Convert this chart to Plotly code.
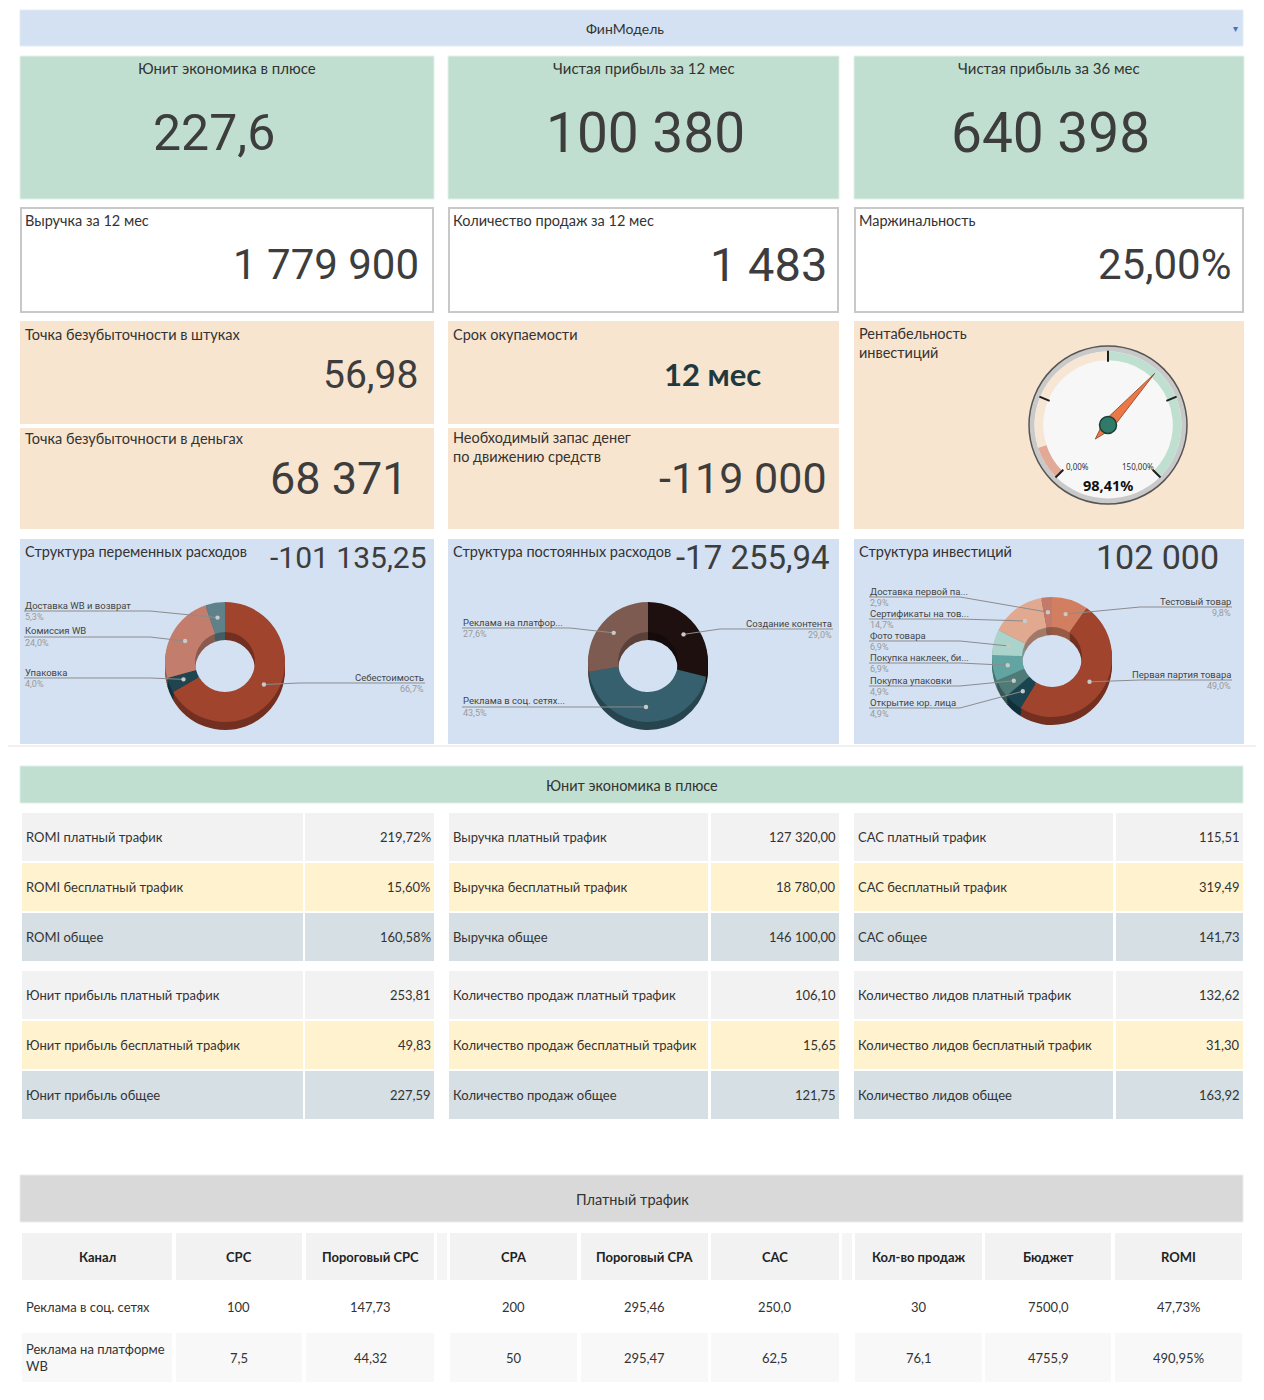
import numpy as np
import plotly.graph_objects as go

# page body has an 8px margin: the figure is sized/offset so page pixels map 1:1
OFF = 8
W, H = 1264 - OFF, 1400 - OFF
def X(x): return (x - OFF) / W
def Y(y): return 1 - (y - OFF) / H

LABEL_FONT = "Lato, 'Noto Sans', sans-serif"
NUM_FONT = "Roboto, sans-serif"
TXT = "#333333"
NUM = "#3d3d3d"

# ---------------- data ----------------
header_title = "ФинМодель"
top_titles = ["Юнит экономика в плюсе", "Чистая прибыль за 12 мес", "Чистая прибыль за 36 мес"]
top_values = ["227,6", "100 380", "640 398"]
mid_titles = ["Выручка за 12 мес", "Количество продаж за 12 мес", "Маржинальность"]
mid_values = ["1 779 900", "1 483", "25,00%"]
be_titles = ["Точка безубыточности в штуках", "Точка безубыточности в деньгах"]
be_values = ["56,98", "68 371"]
payback_title = "Срок окупаемости"
payback_value = "12 мес"
cash_title = "Необходимый запас денег<br>по движению средств"
cash_value = "-119 000"
roi_title = "Рентабельность<br>инвестиций"
roi_value = 98.41
gauge_min, gauge_max = 0, 150
gauge_ticks = [0, 37.5, 75, 112.5, 150]
gauge_bands = [(0, 15), (15, 75), (75, 150)]
gauge_band_colors = ["#e2a996", "#f7e6d3", "#bfe0d1"]

struct_titles = ["Структура переменных расходов", "Структура постоянных расходов", "Структура инвестиций"]
struct_totals = ["-101 135,25", "-17 255,94", "102 000"]

var_labels = ["Себестоимость", "Упаковка", "Комиссия WB", "Доставка WB и возврат"]
var_values = [66.7, 4.0, 24.0, 5.3]
var_colors = ["#a0442e", "#1e4550", "#c27d6d", "#5f818a"]

fix_labels = ["Создание контента", "Реклама в соц. сетях...", "Реклама на платфор..."]
fix_values = [29.0, 43.5, 27.6]
fix_colors = ["#1f1010", "#37606e", "#7e5b51"]

inv_labels = ["Тестовый товар", "Первая партия товара", "Открытие юр. лица", "Покупка упаковки",
              "Покупка наклеек, би...", "Фото товара", "Сертификаты на тов...", "Доставка первой па..."]
inv_values = [9.8, 49.0, 4.9, 4.9, 6.9, 6.9, 14.7, 2.9]
inv_colors = ["#d27f61", "#a0442e", "#1a4450", "#4e7a78", "#62a4a1", "#a9d3cb", "#e2a991", "#c47a6a"]

unit_header = "Юнит экономика в плюсе"
unit_labels = [
    ["ROMI платный трафик", "ROMI бесплатный трафик", "ROMI общее",
     "Юнит прибыль платный трафик", "Юнит прибыль бесплатный трафик", "Юнит прибыль общее"],
    ["Выручка платный трафик", "Выручка бесплатный трафик", "Выручка общее",
     "Количество продаж платный трафик", "Количество продаж бесплатный трафик", "Количество продаж общее"],
    ["CAC платный трафик", "CAC бесплатный трафик", "CAC общее",
     "Количество лидов платный трафик", "Количество лидов бесплатный трафик", "Количество лидов общее"],
]
unit_values = [
    ["219,72%", "15,60%", "160,58%", "253,81", "49,83", "227,59"],
    ["127 320,00", "18 780,00", "146 100,00", "106,10", "15,65", "121,75"],
    ["115,51", "319,49", "141,73", "132,62", "31,30", "163,92"],
]

traffic_header = "Платный трафик"
traffic_cols = ["Канал", "CPC", "Пороговый CPC", "CPA", "Пороговый CPA", "CAC", "Кол-во продаж", "Бюджет", "ROMI"]
traffic_rows = [
    ["Реклама в соц. сетях", "100", "147,73", "200", "295,46", "250,0", "30", "7500,0", "47,73%"],
    ["Реклама на платформе<br>WB", "7,5", "44,32", "50", "295,47", "62,5", "76,1", "4755,9", "490,95%"],
]

# ---------------- layout helpers ----------------
shapes, annots = [], []

def rect(x0, y0, x1, y1, fill, line=None, lw=0, layer="below"):
    shapes.append(dict(type="rect", xref="paper", yref="paper", x0=X(x0), x1=X(x1), y0=Y(y1), y1=Y(y0),
                       fillcolor=fill, line=dict(color=line or fill, width=lw), layer=layer))

def text(x, y, s, size, color=TXT, xa="left", ya="middle", family=LABEL_FONT):
    annots.append(dict(x=X(x), y=Y(y), xref="paper", yref="paper", text=s, showarrow=False,
                       xanchor=xa, yanchor=ya, align=xa if xa != "center" else "center", borderpad=0,
                       font=dict(size=size, color=color, family=family)))

def path(pts, color="#8c8c8c", width=1):
    d = "M " + " L ".join(f"{X(x):.5f},{Y(y):.5f}" for x, y in pts)
    shapes.append(dict(type="path", xref="paper", yref="paper", path=d, line=dict(color=color, width=width)))

def dot(x, y, r=2.2, color="#c9c9c9"):
    shapes.append(dict(type="circle", xref="paper", yref="paper", x0=X(x - r), x1=X(x + r),
                       y0=Y(y + r), y1=Y(y - r), fillcolor=color, line=dict(width=0)))

# section divider line
shapes.append(dict(type="line", xref="paper", yref="paper", x0=X(8), x1=X(1262), y0=Y(746), y1=Y(746),
                   line=dict(color="#e2e2e2", width=1)))

# header
rect(20, 10, 1243, 46, "#d3e1f2", "#e4ecf7", 1)
text(625, 28, header_title, 14, xa="center")
text(1235, 28, "▾", 10, "#4472c4", xa="center")

cols = [(20, 434), (448, 839), (854, 1244)]

# row 1 (green)
for i, (x0, x1) in enumerate(cols):
    rect(x0, 56, x1, 199, "#c0dfd0", "#e3f1ea", 1)
    text((x0 + x1) / 2, 68, top_titles[i], 15, xa="center")
big_sizes = [50, 55, 55]
big_x = [214, 645, 1050]
for i in range(3):
    text(big_x[i], 133, top_values[i], big_sizes[i], NUM, xa="center", family=NUM_FONT)

# row 2 (white bordered)
mid_sizes = [42, 47, 42]
mid_right = [420, 828, 1232]
for i, (x0, x1) in enumerate(cols):
    rect(x0 + 1, 208, x1 - 1, 312, "#ffffff", "#c8c8c8", 2)
    text(x0 + 4, 221, mid_titles[i], 14.5)
    text(mid_right[i], 264, mid_values[i], mid_sizes[i], NUM, xa="right", family=NUM_FONT)

# row 3 (peach)
PEACH = "#f8e5d0"
rect(20, 321, 434, 424, PEACH); rect(20, 428, 434, 529, PEACH)
rect(448, 321, 839, 424, PEACH); rect(448, 428, 839, 529, PEACH)
rect(854, 321, 1244, 529, PEACH)
text(24, 334, be_titles[0], 14.5)
text(24, 438, be_titles[1], 14.5)
text(419, 375, be_values[0], 39, NUM, xa="right", family=NUM_FONT)
text(409, 478, be_values[1], 45, NUM, xa="right", family=NUM_FONT)
text(452, 334, payback_title, 14.5)
text(712, 374, "<b>" + payback_value + "</b>", 31, "#1e3a40", xa="center")
text(452, 428, cash_title, 14.5, ya="top")
text(828, 478, cash_value, 43, NUM, xa="right", family=NUM_FONT)
text(858, 324, roi_title, 14.5, ya="top")

# row 4 (blue) - structure cards
BLUE = "#d3e1f2"
tot_sizes = [30, 33, 34]
tot_right = [428, 831, 1220]
for i, (x0, x1) in enumerate(cols):
    rect(x0, 539, x1, 744, BLUE)
    text(x0 + 4, 551, struct_titles[i], 14.5)
    text(tot_right[i], 557, struct_totals[i], tot_sizes[i], NUM, xa="right", family=NUM_FONT)

# ---------------- donuts ----------------
def darken(hexc, f=0.72):
    hexc = hexc.lstrip("#")
    r, g, b = [int(hexc[k:k + 2], 16) for k in (0, 2, 4)]
    return "#%02x%02x%02x" % (int(r * f), int(g * f), int(b * f))

def pct(v):
    return f"{v:.1f}".replace(".", ",") + "%"

traces = []
HOLE = 0.5
R = 60
DEPTH = 8

def donut(cx, cy, labels, values, colors, label_pos):
    dom = dict(x=[X(cx - R), X(cx + R)], y=[Y(cy + R), Y(cy - R)])
    for k in range(DEPTH, 0, -2):
        d = dict(x=[X(cx - R), X(cx + R)], y=[Y(cy + R + k), Y(cy - R + k)])
        traces.append(go.Pie(values=values, labels=labels, hole=HOLE, sort=False, direction="clockwise",
                             rotation=0, domain=d, textinfo="none", hoverinfo="skip",
                             marker=dict(colors=[darken(c) for c in colors], line=dict(width=0))))
    traces.append(go.Pie(values=values, labels=labels, hole=HOLE, sort=False, direction="clockwise",
                         rotation=0, domain=dom, textinfo="none", hoverinfo="label+percent",
                         marker=dict(colors=colors, line=dict(width=0))))
    total = sum(values)
    cum = 0
    rm = R * (1 + HOLE) / 2
    for lab, v, (side, lx, bend, ly) in zip(labels, values, label_pos):
        ang = np.deg2rad(360 * (cum + v / 2) / total)
        cum += v
        dx, dy = cx + rm * np.sin(ang), cy - rm * np.cos(ang)
        path([(lx, ly), (bend, ly), (dx, dy)])
        dot(dx, dy)
        xa = "left" if side == "L" else "right"
        text(lx, ly - 6, lab, 9.5, "#444444", xa=xa, family=NUM_FONT)
        text(lx, ly + 6, pct(v), 9, "#9a9a9a", xa=xa, family=NUM_FONT)

donut(225, 662, var_labels, var_values, var_colors,
      [("R", 425, 300, 683), ("L", 24, 150, 678), ("L", 24, 150, 637), ("L", 24, 150, 611)])
donut(648, 662, fix_labels, fix_values, fix_colors,
      [("R", 833, 720, 629), ("L", 462, 600, 707), ("L", 462, 570, 628)])
donut(1052, 657, inv_labels, inv_values, inv_colors,
      [("R", 1232, 1140, 607), ("R", 1232, 1140, 680), ("L", 869, 960, 708), ("L", 869, 960, 686),
       ("L", 869, 960, 663), ("L", 869, 960, 641), ("L", 869, 960, 619), ("L", 869, 960, 597)])

# ---------------- gauge ----------------
def gth(v):
    return 225 + (v - gauge_min) / (gauge_max - gauge_min) * 270

gcx, gcy, gR = 1108, 425, 79
traces.append(go.Barpolar(r=[0.93], theta=[0], width=[360], base=0, marker=dict(color="#f7f7f7", line=dict(width=0)),
                          hoverinfo="skip", subplot="polar"))
for (a, b), c in zip(gauge_bands, gauge_band_colors):
    traces.append(go.Barpolar(r=[0.11], base=0.82, theta=[gth((a + b) / 2)], width=[(b - a) * 270 / (gauge_max - gauge_min)],
                              marker=dict(color=c, line=dict(width=0)), hoverinfo="skip", subplot="polar"))
tr, tt = [], []
for t in gauge_ticks:
    tr += [0.8, 0.94, None]
    tt += [gth(t), gth(t), None]
traces.append(go.Scatterpolar(r=tr, theta=tt, mode="lines", line=dict(color="#1e1e1e", width=2),
                              hoverinfo="skip", subplot="polar"))
nt = gth(roi_value)
traces.append(go.Scatterpolar(r=[0.88, 0.07, 0.24, 0.07, 0.88], theta=[nt, nt - 90, nt + 180, nt + 90, nt],
                              mode="lines", fill="toself", fillcolor="#ea7849", line=dict(color="#8a3d1f", width=0.8),
                              hoverinfo="skip", subplot="polar"))
traces.append(go.Scatterpolar(r=[0], theta=[0], mode="markers",
                              marker=dict(size=17, color="#2f7a68", line=dict(color="#1d3d37", width=1.5)),
                              hoverinfo="skip", subplot="polar"))
text(1077, 466, "0,00%", 8, "#333333", xa="center", family="'Noto Sans', sans-serif")
text(1138, 466, "150,00%", 8, "#333333", xa="center", family="'Noto Sans', sans-serif")
text(1108, 485, "<b>" + f"{roi_value:.2f}".replace(".", ",") + "%</b>", 14.5, "#111111", xa="center",
     family="'Noto Sans', sans-serif")

# ---------------- unit economics tables ----------------
rect(20, 766, 1243, 803, "#c0dfd0", "#e0efe7", 1)
text(632, 785, unit_header, 14.5, xa="center")
ucols = [(22, 303, 305, 434), (449, 708, 711, 839), (854, 1113, 1116, 1243)]
urows = [(813, 861), (863, 911), (913, 961), (971, 1019), (1021, 1069), (1071, 1119)]
ufills = ["#f2f2f2", "#fff2cf", "#d5dfe4"]
for g, (a0, a1, b0, b1) in enumerate(ucols):
    for r, (y0, y1) in enumerate(urows):
        f = ufills[r % 3]
        rect(a0, y0, a1, y1, f)
        rect(b0, y0, b1, y1, f)
        ym = (y0 + y1) / 2
        text(a0 + 3, ym, unit_labels[g][r], 13)
        text(b1 - 2, ym, unit_values[g][r], 13, xa="right")

# ---------------- paid traffic table ----------------
rect(20, 1175, 1243, 1222, "#d9d9d9", "#ececec", 1)
text(632, 1199, traffic_header, 14.5, xa="center")
tcols = [(22, 172), (176, 302), (306, 434), (450, 577), (581, 708), (711, 839), (855, 982), (985, 1111), (1115, 1242)]
for sx0, sx1 in [(437, 447), (842, 852)]:
    rect(sx0, 1233, sx1, 1280, "#f5f5f5")
for c, (x0, x1) in enumerate(tcols):
    rect(x0, 1233, x1, 1280, "#f2f2f2")
    text((x0 + x1) / 2, 1257, "<b>" + traffic_cols[c] + "</b>", 13, "#222222", xa="center")
row_y = [(1283, 1331), (1333, 1382)]
row_f = ["#ffffff", "#f8f8f8"]
for r, row in enumerate(traffic_rows):
    y0, y1 = row_y[r]
    for c, (x0, x1) in enumerate(tcols):
        rect(x0, y0, x1, y1, row_f[r])
        if c == 0:
            text(x0 + 3, (y0 + y1) / 2, row[c], 13)
        else:
            text((x0 + x1) / 2, (y0 + y1) / 2, row[c], 13, xa="center")

fig = go.Figure(traces)
fig.update_layout(
    width=W, height=H, margin=dict(l=0, r=0, t=0, b=0), paper_bgcolor="white", plot_bgcolor="white",
    showlegend=False, shapes=shapes, annotations=annots,
    polar=dict(domain=dict(x=[X(gcx - gR), X(gcx + gR)], y=[Y(gcy + gR), Y(gcy - gR)]),
               bgcolor="#c9c9c9", barmode="overlay", hole=0,
               angularaxis=dict(rotation=90, direction="clockwise", showgrid=False, showticklabels=False,
                                ticks="", showline=True, linecolor="#555555", linewidth=1.5),
               radialaxis=dict(visible=False, range=[0, 1])),
)
fig.write_html("out.html", config={"displayModeBar": False})
